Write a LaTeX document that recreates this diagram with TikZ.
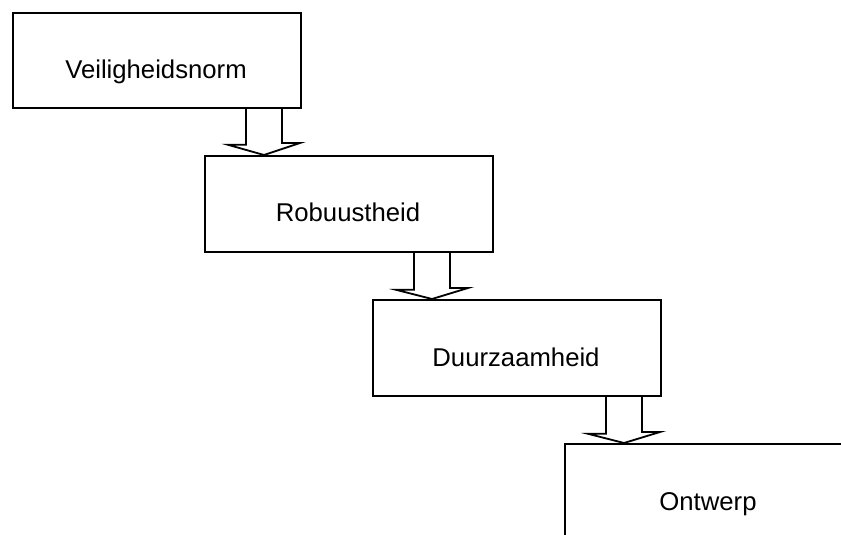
\documentclass[tikz,border=0pt]{standalone}
\usepackage{fontspec}
\setmainfont{Liberation Sans}
\usetikzlibrary{calc}
\begin{document}
\begin{tikzpicture}[x=1pt,y=-1pt,
  box/.style={draw, line width=1.8pt, minimum width=288pt, minimum height=96pt, inner sep=0pt, anchor=north west},
  lbl/.style={anchor=base, font=\fontsize{25.7}{30}\selectfont, inner sep=0pt},
  barrow/.style={draw, line width=1.8pt, line join=miter}]
\useasboundingbox (0,0) rectangle (841,535);
\clip (0,0) rectangle (841,535);
\fill[white] (0,0) rectangle (841,535);
\node[box, minimum height=95pt] (b1) at (12,12) {};
\node[box] (b2) at (204,155) {};
\node[box] (b3) at (372,299) {};
\node[box] (b4) at (564,443) {};
\node[lbl] (t1) at (156,78) {Veiligheidsnorm};
\node[lbl] (t2) at (348,221.5) {Robuustheid};
\node[lbl] (t3) at (516,366) {Duurzaamheid};
\node[lbl] (t4) at (708,510) {Ontwerp};
\draw[barrow] ($(b1.south west)+(234,0)$) -- ++(0,36) -- ++(-18,0) -- ($(b2.north west)+(60,0)$) -- ++(36,-12) -- ++(-18,0) -- ++(0,-36);
\draw[barrow] ($(b2.south west)+(210,0)$) -- ++(0,37) -- ++(-18,0) -- ($(b3.north west)+(60,0)$) -- ++(36,-11) -- ++(-18,0) -- ++(0,-37);
\draw[barrow] ($(b3.south west)+(234,0)$) -- ++(0,37) -- ++(-18,0) -- ($(b4.north west)+(60,0)$) -- ++(36,-11) -- ++(-18,0) -- ++(0,-37);
\end{tikzpicture}
\end{document}
